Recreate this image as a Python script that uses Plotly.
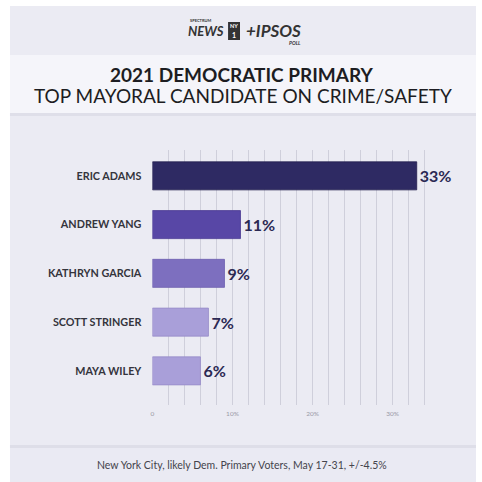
import plotly.graph_objects as go

# Poll results
candidates = ["ERIC ADAMS", "ANDREW YANG", "KATHRYN GARCIA", "SCOTT STRINGER", "MAYA WILEY"]
shares = [33, 11, 9, 7, 6]
bar_colors = ["#2e2a63", "#5847a6", "#7d6fbf", "#a99fd9", "#a99fd9"]
edge_colors = ["#24204f", "#4a3a93", "#6c5eae", "#978cc8", "#978cc8"]
tick_values = [0, 10, 20, 30]
tick_text = ["0", "10%", "20%", "30%"]

title_main = "2021 DEMOCRATIC PRIMARY"
title_sub = "TOP MAYORAL CANDIDATE ON CRIME/SAFETY"
footnote = "New York City, likely Dem. Primary Voters, May 17-31, +/-4.5%"

W = H = 482
FONT = "Lato, 'Open Sans', sans-serif"


def px(x):
    return x / W


def py(y):
    return 1 - y / H


def label(text, x, y, size, color="#333333", weight="normal", xanchor="center", family=FONT):
    return dict(text=text, x=px(x), y=py(y), xref="paper", yref="paper", showarrow=False,
                xanchor=xanchor, yanchor="middle",
                font=dict(family=family, size=size, color=color, weight=weight))


fig = go.Figure(
    go.Bar(
        x=shares,
        y=candidates,
        orientation="h",
        width=0.575,
        marker=dict(color=bar_colors, line=dict(color=edge_colors, width=0.8)),
        text=[f"{v}%" for v in shares],
        textposition="outside",
        cliponaxis=False,
        textfont=dict(family=FONT, size=16, color="#2b2953", weight="bold"),
        hoverinfo="skip",
    )
)

shapes = [
    # card background
    dict(type="rect", xref="paper", yref="paper", x0=px(8), x1=px(476), y0=py(482), y1=py(6),
         fillcolor="#ebebf3", line=dict(width=0), layer="below"),
    # header band and its shadow
    dict(type="rect", xref="paper", yref="paper", x0=px(8), x1=px(476), y0=py(116), y1=py(113),
         fillcolor="#dfdfe9", line=dict(width=0), layer="below"),
    dict(type="rect", xref="paper", yref="paper", x0=px(8), x1=px(476), y0=py(113), y1=py(55),
         fillcolor="#f5f5fa", line=dict(width=0), layer="below"),
    # footer band and its shadow
    dict(type="rect", xref="paper", yref="paper", x0=px(8), x1=px(476), y0=py(448), y1=py(445),
         fillcolor="#dedee8", line=dict(width=0), layer="below"),
    dict(type="rect", xref="paper", yref="paper", x0=px(8), x1=px(476), y0=py(482), y1=py(448),
         fillcolor="#eaeaf3", line=dict(width=0), layer="below"),
    # NY1 logo box
    dict(type="rect", xref="paper", yref="paper", x0=px(227), x1=px(239), y0=py(40), y1=py(22),
         fillcolor="#333333", line=dict(width=0)),
]

annotations = [
    label(title_main, 241, 74, 19, color="#1d1d22", weight="bold"),
    label(title_sub, 242, 96, 19, color="#1d1d22"),
    label(footnote, 241, 465, 10.5, color="#44444c"),
    # header logo
    label("SPECTRUM", 187, 21, 4, weight="bold", xanchor="left"),
    label("<i>NEWS</i>", 185, 31, 13, weight="bold", xanchor="left"),
    label("NY", 233, 26, 5.5, color="#ffffff", weight="bold"),
    label("1", 233, 35.5, 7, color="#ffffff", weight="bold"),
    label("<i>+IPSOS</i>", 243, 30, 17, weight="bold", xanchor="left"),
    label("<i>POLL</i>", 302, 43, 5, weight="bold", xanchor="right"),
]

fig.update_layout(
    width=W,
    height=H,
    margin=dict(l=0, r=0, t=0, b=0),
    paper_bgcolor="#ffffff",
    plot_bgcolor="rgba(0,0,0,0)",
    showlegend=False,
    shapes=shapes,
    annotations=annotations,
    xaxis=dict(
        domain=[px(151), px(441)],
        range=[0, 36.05],
        tickvals=tick_values,
        ticktext=tick_text,
        tickfont=dict(family=FONT, size=6.5, color="#9a9aa6"),
        showgrid=True,
        gridcolor="#cfcfdb",
        gridwidth=1,
        minor=dict(dtick=2, tick0=0, showgrid=True, gridcolor="#cfcfdb", gridwidth=1),
        zeroline=False,
        showline=False,
        ticks="",
        ticklabelstandoff=3,
        fixedrange=True,
    ),
    yaxis=dict(
        domain=[py(405), py(150)],
        type="category",
        categoryorder="array",
        categoryarray=candidates,
        range=[4.7, -0.53],
        tickfont=dict(family=FONT, size=10.8, color="#34343c", weight="bold"),
        ticks="",
        ticklabelstandoff=10,
        showgrid=False,
        zeroline=False,
        showline=False,
        fixedrange=True,
    ),
)

fig.write_html("out.html")
